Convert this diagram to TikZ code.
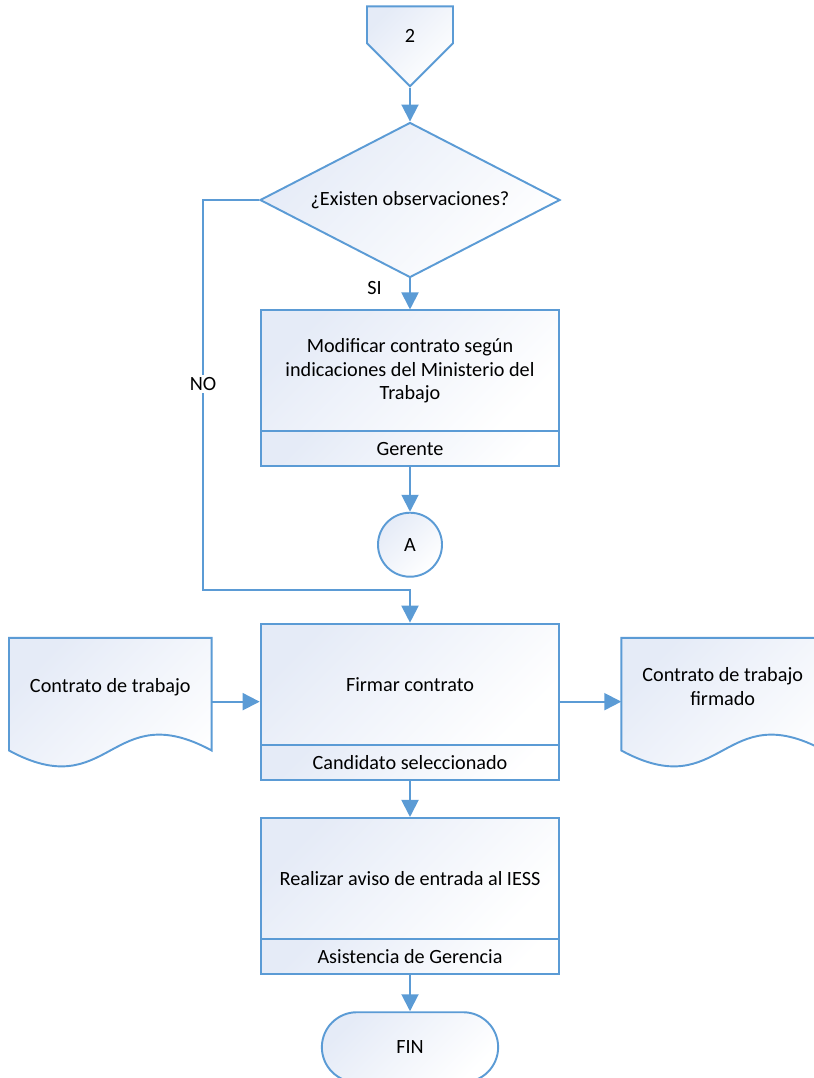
\documentclass[tikz,border=0pt]{standalone}
\usepackage{fontspec}
\setmainfont{Carlito}
\usetikzlibrary{shapes.geometric, shapes.symbols, shapes.misc, arrows.meta, positioning, fit}

\definecolor{flowline}{HTML}{5B9BD5}
\definecolor{flowfill}{HTML}{E5EBF7}

\begin{document}
\begin{tikzpicture}[
    font=\fontsize{11.5}{13.3}\selectfont,
    node distance=0.7cm,
    % estilos de los nodos
    vfill/.style={top color=flowfill, bottom color=white, shading angle=45},
    proc/.style={rectangle, draw=flowline, line width=1.1pt, vfill, minimum width=5.96cm, minimum height=2.42cm, align=center},
    role/.style={rectangle, draw=flowline, line width=1.1pt, vfill, minimum width=5.96cm, minimum height=0.7cm, align=center},
    decision/.style={diamond, draw=flowline, line width=1.1pt, vfill, minimum width=6cm, minimum height=3.1cm, inner sep=0pt, aspect=2},
    offpage/.style={signal, signal to=south, signal pointer angle=90, draw=flowline, line width=1.1pt, vfill, minimum width=1.72cm, minimum height=0.84cm, inner sep=0pt, text height=0.7cm, text depth=0pt},
    connector/.style={circle, draw=flowline, line width=1.1pt, vfill, minimum size=1.28cm, inner sep=0pt},
    terminal/.style={rounded rectangle, draw=flowline, line width=1.1pt, vfill, minimum width=3.76cm, minimum height=1.4cm},
    docbox/.style={rectangle, minimum width=4.04cm, minimum height=2.54cm, inner sep=0pt},
    doctext/.style={align=center},
    docline/.style={draw=flowline, line width=1.1pt, vfill},
    arrow/.style={draw=flowline, line width=1.1pt, -{Triangle[length=0.34cm, width=0.34cm]}},
    lbl/.style={fill=white, inner sep=1.5pt}
]
    \useasboundingbox (0,0) rectangle (16.28,-21.56);

    % ==================== DECISION ====================
    \node [decision] (dec) at (8.2,-4.0) {¿Existen observaciones?};
    \node [offpage, above=0.68cm of dec] (start) {2};

    \node [proc, below=0.62cm of dec] (mod) {Modificar contrato según\\indicaciones del Ministerio del\\Trabajo};
    \node [role, below=-1.1pt of mod] (modRole) {Gerente};
    \node [fit=(mod) (modRole), inner sep=0pt] (modBox) {};

    \node [connector, below=0.88cm of modBox] (conA) {A};

    % ==================== FIRMA ====================
    \node [proc, below=0.9cm of conA] (firmar) {Firmar contrato};
    \node [role, below=-1.1pt of firmar] (firmarRole) {Candidato seleccionado};
    \node [fit=(firmar) (firmarRole), inner sep=0pt] (firmarBox) {};

    \node [docbox, left=0.96cm of firmarBox] (docIn) {};
    \node [docbox, right=1.22cm of firmarBox] (docOut) {};
    \foreach \d in {docIn, docOut}
        \path [docline] (\d.north west) -- (\d.north east) -- ([yshift=0.3cm]\d.south east)
            .. controls ([yshift=1.4cm]\d.south) and ([yshift=-0.8cm]\d.south) .. ([yshift=0.3cm]\d.south west) -- cycle;
    \node [doctext] (docInText) at ([yshift=0.29cm]docIn.center) {Contrato de trabajo};
    \node [doctext] (docOutText) at ([yshift=0.3cm]docOut.center) {Contrato de trabajo\\firmado};

    % ==================== AVISO IESS ====================
    \node [proc, below=0.72cm of firmarBox] (aviso) {Realizar aviso de entrada al IESS};
    \node [role, below=-1.1pt of aviso] (avisoRole) {Asistencia de Gerencia};
    \node [fit=(aviso) (avisoRole), inner sep=0pt] (avisoBox) {};

    \node [terminal, below=0.72cm of avisoBox] (fin) {FIN};

    % Conexiones
    \coordinate (noTurn) at ([yshift=0.66cm]firmar.north);
    \draw [arrow] (start.south) -- (dec.north);
    \draw [arrow] (dec.south) -- node[pos=0.3, left=0.43cm] {SI} (mod.north);
    \draw [arrow] (dec.west) -- ++(-1.12,0) |- node[lbl, pos=0.236] {NO} (noTurn) -- (firmar.north);
    \draw [arrow] (modRole.south) -- (conA.north);
    \draw [arrow] (docIn.east) -- (firmarBox.west);
    \draw [arrow] (firmarBox.east) -- (docOut.west);
    \draw [arrow] (firmarRole.south) -- (aviso.north);
    \draw [arrow] (avisoRole.south) -- (fin.north);

\end{tikzpicture}
\end{document}
